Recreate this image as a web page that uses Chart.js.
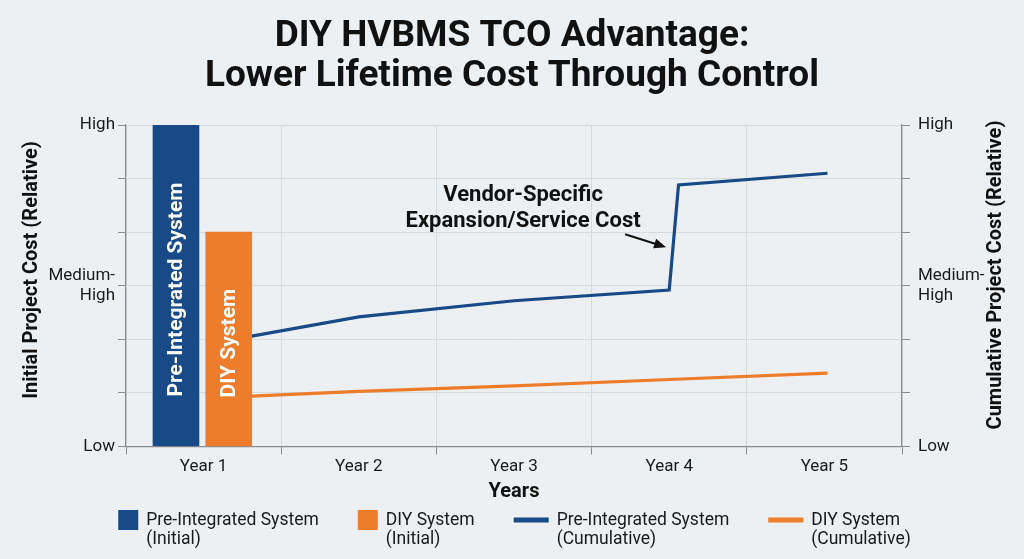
<!DOCTYPE html>
<html><head><meta charset="utf-8">
<script src="https://cdn.jsdelivr.net/npm/chart.js@4.4.0/dist/chart.umd.min.js"></script>
<style>
html,body{margin:0;padding:0;background:#edf0f2;}
#wrap{width:1024px;height:559px;}
</style></head><body>
<div id="wrap"><canvas id="c" width="1024" height="559"></canvas></div>
<script>
const titleLines = ['DIY HVBMS TCO Advantage:', 'Lower Lifetime Cost Through Control'];
const years = ['Year 1', 'Year 2', 'Year 3', 'Year 4', 'Year 5'];
const levelLabels = {0: 'Low', 3: ['Medium-', 'High'], 6: 'High'};
const yTitleLeft = 'Initial Project Cost (Relative)';
const yTitleRight = 'Cumulative Project Cost (Relative)';
const xTitle = 'Years';
const initialPre = [6, null, null, null, null];
const initialDiy = [4, null, null, null, null];
const cumPreX = [0.31, 1, 2, 3, 3.06, 4.02];
const cumPreY = [2.06, 2.42, 2.72, 2.92, 4.88, 5.10];
const cumDiyX = [0.31, 1, 2, 3, 4.02];
const cumDiyY = [0.94, 1.03, 1.13, 1.25, 1.37];
const annotationLines = ['Vendor-Specific', 'Expansion/Service Cost'];
const annotationTarget = {x: 2.98, y: 3.72};

const BLUE = '#174a87', ORANGE = '#ee7d2b', GRID = '#d6dbe0', AXIS = '#8a8d90', TXT = '#1a1a1a';
const BAR_SLOT = 0.34, BAR_SHIFT = -0.008, BAR_PX = 46;
Chart.defaults.font.family = 'Roboto';

function barPoints(values, k) {
  const out = [];
  values.forEach((v, i) => { if (v != null) out.push({x: i + (k - 0.5) * BAR_SLOT + BAR_SHIFT, y: v}); });
  return out;
}

const overlay = {
  id: 'overlay',
  afterDatasetsDraw(chart) {
    const ctx = chart.ctx;
    chart.data.datasets.forEach((ds, i) => {
      if (ds.type === 'line') return;
      const meta = chart.getDatasetMeta(i);
      meta.data.forEach(el => {
        const p = el.getProps(['x', 'y', 'base'], true);
        ctx.save();
        ctx.translate(p.x, (p.y + p.base) / 2 + 4);
        ctx.rotate(-Math.PI / 2);
        ctx.font = 'bold 21px Roboto';
        ctx.fillStyle = '#ffffff';
        ctx.textAlign = 'center';
        ctx.textBaseline = 'middle';
        ctx.fillText(ds.label, 0, 1);
        ctx.restore();
      });
    });
    // annotation
    const xs = chart.scales.xl, ys = chart.scales.y2;
    const tx = xs.getPixelForValue(annotationTarget.x), ty = ys.getPixelForValue(annotationTarget.y);
    const fx = tx - 41, fy = ty - 13;
    const ang = Math.atan2(ty - fy, tx - fx);
    ctx.save();
    ctx.strokeStyle = '#111'; ctx.fillStyle = '#111'; ctx.lineWidth = 2;
    ctx.beginPath(); ctx.moveTo(fx, fy); ctx.lineTo(tx - 9 * Math.cos(ang), ty - 9 * Math.sin(ang)); ctx.stroke();
    ctx.beginPath();
    ctx.moveTo(tx, ty);
    ctx.lineTo(tx - 12 * Math.cos(ang) + 5 * Math.sin(ang), ty - 12 * Math.sin(ang) - 5 * Math.cos(ang));
    ctx.lineTo(tx - 12 * Math.cos(ang) - 5 * Math.sin(ang), ty - 12 * Math.sin(ang) + 5 * Math.cos(ang));
    ctx.closePath(); ctx.fill();
    ctx.font = 'bold 22px Roboto';
    ctx.textAlign = 'center'; ctx.textBaseline = 'middle';
    ctx.fillText(annotationLines[0], tx - 143, ty - 52);
    ctx.fillText(annotationLines[1], tx - 143, ty - 25.5);
    ctx.restore();
  },
  afterDraw(chart) {
    const ctx = chart.ctx;
    ctx.save();
    // axis titles (both read bottom-to-top)
    ctx.font = 'bold 20px Roboto';
    ctx.fillStyle = '#111';
    ctx.textAlign = 'center'; ctx.textBaseline = 'middle';
    [[yTitleLeft, 32, 270], [yTitleRight, 996, 275]].forEach(([t, x, y]) => {
      ctx.save(); ctx.translate(x, y); ctx.rotate(-Math.PI / 2); ctx.fillText(t, 0, 0); ctx.restore();
    });
    // legend
    ctx.font = '17.5px Roboto';
    const items = chart.data.datasets.map(ds => {
      const isLine = ds.type === 'line';
      const sw = isLine ? 35 : 20;
      const tw = Math.max(ctx.measureText(ds.label).width, ctx.measureText(ds.legendSub).width);
      return {isLine, sw, tw, color: isLine ? ds.borderColor : ds.backgroundColor, l1: ds.label, l2: ds.legendSub};
    });
    const gapIn = 8, gapOut = 39;
    let total = 0;
    items.forEach((it, k) => { total += it.sw + gapIn + it.tw + (k < items.length - 1 ? gapOut : 0); });
    let x = 514.5 - total / 2;
    const yc = 520;
    items.forEach(it => {
      ctx.fillStyle = it.color;
      if (it.isLine) ctx.fillRect(x, yc - 2.5, it.sw, 5);
      else ctx.fillRect(x, yc - 10, 20, 20);
      const txx = x + it.sw + gapIn;
      ctx.fillStyle = TXT;
      ctx.textAlign = 'left'; ctx.textBaseline = 'middle';
      ctx.fillText(it.l1, txx, 521);
      ctx.fillText(it.l2, txx, 540);
      x = txx + it.tw + gapOut;
    });
    ctx.restore();
  }
};

new Chart(document.getElementById('c'), {
  type: 'bar',
  data: {
    labels: years,
    datasets: [
      {label: 'Pre-Integrated System', legendSub: '(Initial)', data: barPoints(initialPre, 0), backgroundColor: BLUE,
       grouped: false, barThickness: BAR_PX, xAxisID: 'xl', yAxisID: 'y'},
      {label: 'DIY System', legendSub: '(Initial)', data: barPoints(initialDiy, 1), backgroundColor: ORANGE,
       grouped: false, barThickness: BAR_PX, xAxisID: 'xl', yAxisID: 'y'},
      {type: 'line', label: 'Pre-Integrated System', legendSub: '(Cumulative)',
       data: cumPreX.map((v, i) => ({x: v, y: cumPreY[i]})), borderColor: BLUE, borderWidth: 3.2,
       pointRadius: 0, tension: 0, borderJoinStyle: 'miter', xAxisID: 'xl', yAxisID: 'y2'},
      {type: 'line', label: 'DIY System', legendSub: '(Cumulative)',
       data: cumDiyX.map((v, i) => ({x: v, y: cumDiyY[i]})), borderColor: ORANGE, borderWidth: 3.2,
       pointRadius: 0, tension: 0, xAxisID: 'xl', yAxisID: 'y2'}
    ]
  },
  options: {
    responsive: false, animation: false,
    layout: {padding: {left: 0, right: 0, top: 0, bottom: 55}},
    plugins: {
      legend: {display: false}, tooltip: {enabled: false},
      title: {display: true, text: titleLines, color: '#111',
        font: {size: 37, weight: 'bold', lineHeight: 1.08}, padding: {top: 16.5, bottom: 28.6}}
    },
    scales: {
      x: {type: 'category', offset: true,
        grid: {offset: true, color: GRID, tickLength: 8, tickColor: AXIS},
        border: {color: AXIS, width: 1.2},
        ticks: {font: {size: 17}, color: TXT, padding: 2},
        title: {display: true, text: xTitle, color: '#111', font: {size: 20, weight: 'bold'}, padding: {top: 0, bottom: 0}},
        afterFit(s) { s.height = 57.5; }},
      xl: {type: 'linear', display: false, offset: false, min: -0.5, max: 4.5},
      y: {position: 'left', min: 0, max: 6,
        ticks: {stepSize: 1, autoSkip: false, callback: v => levelLabels[v] ?? '', font: {size: 17, lineHeight: 1.12}, color: TXT, padding: 3},
        grid: {color: GRID, tickLength: 8, tickColor: AXIS},
        border: {color: AXIS, width: 1.2},
        afterFit(s) { s.width = 126; }},
      y2: {position: 'right', min: 0, max: 6,
        ticks: {stepSize: 1, autoSkip: false, callback: v => levelLabels[v] ?? '', font: {size: 17, lineHeight: 1.12}, color: TXT, padding: 8},
        grid: {drawOnChartArea: false, tickLength: 8, tickColor: AXIS},
        border: {color: AXIS, width: 1.2},
        afterFit(s) { s.width = 122; }}
    }
  },
  plugins: [overlay]
});
</script>
</body></html>
